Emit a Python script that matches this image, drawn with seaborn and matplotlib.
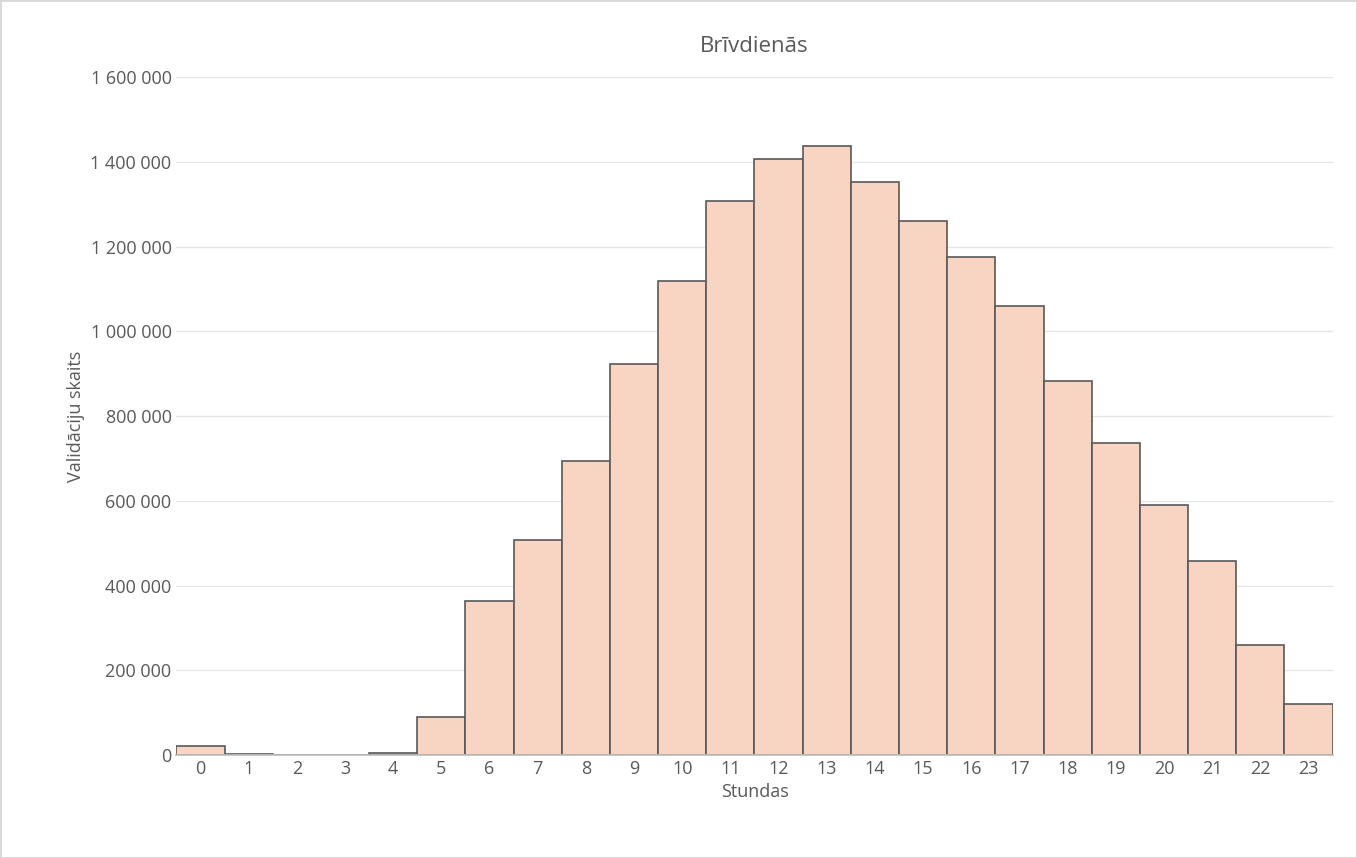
import pandas as pd
import matplotlib.pyplot as plt
import seaborn as sns
from matplotlib.ticker import FuncFormatter

# Dati: validāciju skaits pa stundām brīvdienās
stundas = list(range(24))
skaits = [21000, 2000, 1000, 1000, 4000, 90000, 364000, 508000, 693000, 922000,
          1118000, 1307000, 1406000, 1437000, 1352000, 1260000, 1175000, 1059000,
          884000, 737000, 591000, 459000, 260000, 121000]

df = pd.DataFrame({'Stundas': stundas, 'Skaits': skaits})

sns.set_theme(style='white')
plt.rcParams['font.family'] = ['Open Sans', 'DejaVu Sans']

fig, ax = plt.subplots(figsize=(13.57, 8.58), dpi=100)
fig.subplots_adjust(left=0.13, right=0.982, top=0.91, bottom=0.12)

sns.barplot(data=df, x='Stundas', y='Skaits', color='#F8D5C2', saturation=1,
            edgecolor='#595959', linewidth=1.2, width=1.0, ax=ax)

ax.set_ylim(0, 1600000)
ax.set_yticks(range(0, 1600001, 200000))
ax.yaxis.set_major_formatter(FuncFormatter(lambda v, p: f'{int(v):,}'.replace(',', ' ')))
ax.grid(axis='y', color='#E6E6E6', linewidth=1)
ax.set_axisbelow(True)
for s in ['top', 'right', 'left']:
    ax.spines[s].set_visible(False)
ax.spines['bottom'].set_color('#BFBFBF')
ax.tick_params(axis='both', colors='#595959', labelsize=13, length=0)
ax.set_xlabel('Stundas', color='#595959', fontsize=13)
ax.set_ylabel('Validāciju skaits', color='#595959', fontsize=13)
ax.set_title('Brīvdienās', color='#595959', fontsize=16, pad=18)

fig.patch.set_edgecolor('#D9D9D9')
fig.patch.set_linewidth(2)
plt.savefig('out.png', dpi=100, edgecolor=fig.get_edgecolor())
